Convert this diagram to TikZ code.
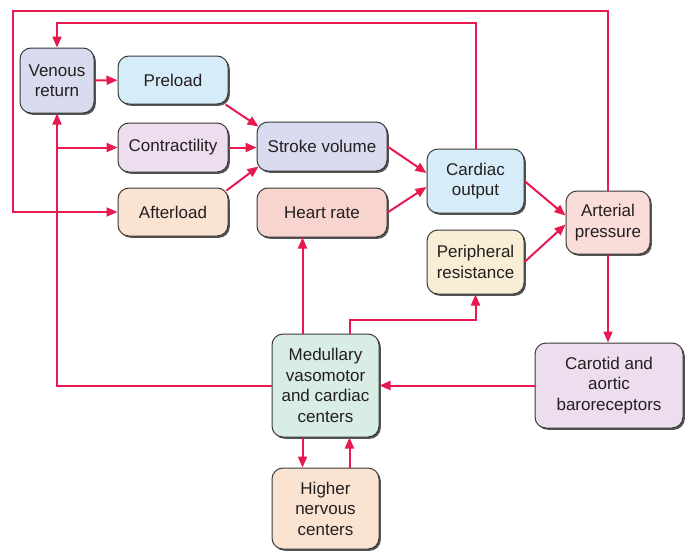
\documentclass[tikz,border=0pt]{standalone}
\usepackage{fontspec}
\setmainfont{Liberation Sans}
\usetikzlibrary{shadows,arrows.meta}
\definecolor{arrred}{HTML}{E8194F}
\definecolor{boxline}{HTML}{3A3A3A}
\definecolor{shadowc}{HTML}{555555}
\definecolor{txt}{HTML}{231F20}
\definecolor{cLav}{HTML}{D9DBEF}
\definecolor{cBlue}{HTML}{D6EDF9}
\definecolor{cPink}{HTML}{EEDDEE}
\definecolor{cPeach}{HTML}{FAE3D1}
\definecolor{cRose}{HTML}{F8D4CE}
\definecolor{cCream}{HTML}{F8EED5}
\definecolor{cArt}{HTML}{FADCD9}
\definecolor{cMint}{HTML}{D8EDE3}
\begin{document}
\begin{tikzpicture}[x=1pt,y=-1pt,
  box/.style={draw=boxline, line width=1pt, rounded corners=11pt, inner sep=0pt,
    align=center, text=txt, font=\fontsize{17}{20.5}\selectfont,
    drop shadow={shadow xshift=1.8pt, shadow yshift=-1.8pt, fill=shadowc, opacity=1}},
  arr/.style={draw=arrred, line width=2pt, -{Triangle[length=11pt,width=9pt]}}]
\useasboundingbox (0,0) rectangle (686,552);

\node[box, fill=cLav, minimum width=74pt, minimum height=65pt] (ven) at (57,80.5) {Venous\\return};
\node[box, fill=cBlue, minimum width=110pt, minimum height=48pt] (pre) at (173,80) {Preload};
\node[box, fill=cPink, minimum width=110pt, minimum height=49pt] (con) at (173,147.5) {Contractility};
\node[box, fill=cPeach, minimum width=110pt, minimum height=48pt] (aft) at (173,212) {Afterload};
\node[box, fill=cLav, minimum width=130pt, minimum height=49pt] (sv) at (322,146.5) {Stroke volume};
\node[box, fill=cRose, minimum width=130pt, minimum height=49pt] (hr) at (322,212.5) {Heart rate};
\node[box, fill=cBlue, minimum width=97pt, minimum height=64pt] (co) at (475.5,181) {Cardiac\\output};
\node[box, fill=cCream, minimum width=97pt, minimum height=64pt] (pr) at (475.5,262) {Peripheral\\resistance};
\node[box, fill=cArt, minimum width=84pt, minimum height=63pt] (ap) at (608,222.5) {Arterial\\pressure};
\node[box, fill=cPink, minimum width=148pt, minimum height=85pt] (car) at (609,385.5) {Carotid and\\aortic\\baroreceptors};
\node[box, fill=cMint, minimum width=107pt, minimum height=103pt] (med) at (325.5,385.5) {Medullary\\vasomotor\\and cardiac\\centers};
\node[box, fill=cPeach, minimum width=107pt, minimum height=81pt] (hi) at (325.5,508.5) {Higher\\nervous\\centers};

\coordinate (tl) at (13,11);
\coordinate (t2) at (57,23);

% outer loop
\draw[arr] (ap.north) |- (tl) |- (aft.west);
\draw[arr] (co.north) |- (t2) -- (ven.north);
\draw[arr] (ven) -- (pre);
\draw[arr] ([shift={(-3,0)}]pre.south east) -- ([shift={(2,5)}]sv.north west);
\draw[arr] (con.east) -- (con.east -| sv.west);
\draw[arr] ([shift={(-2,3)}]aft.north east) -- ([shift={(2,-5)}]sv.south west);
\draw[arr] (sv.east) -- ([shift={(0,-8)}]co.west);
\draw[arr] (hr.east) -- ([shift={(0,6)}]co.west);
\draw[arr] (co.east) -- ([shift={(0,-7)}]ap.west);
\draw[arr] (pr.east) -- ([shift={(0,2)}]ap.west);
\draw[arr] (ap.south) -- (ap.south |- car.north);
\draw[arr] (car.west) -- (car.west -| med.east);

% medullary to venous return and contractility
\draw[arr] (med.west) -| (ven.south);
\draw[arr] (ven.south |- con.west) -- (con.west);

% medullary up
\coordinate (m1) at ([shift={(-23,0)}]med.north);
\draw[arr] (m1) -- (m1 |- hr.south);
\coordinate (m2) at ([shift={(24,0)}]med.north);
\draw[arr] (m2) -- ++(0,-14) -| (pr.south);

% medullary <-> higher
\coordinate (m4) at ([shift={(-23,0)}]med.south);
\draw[arr] (m4) -- (m4 |- hi.north);
\coordinate (m5) at ([shift={(24,0)}]hi.north);
\draw[arr] (m5) -- (m5 |- med.south);
\end{tikzpicture}
\end{document}
